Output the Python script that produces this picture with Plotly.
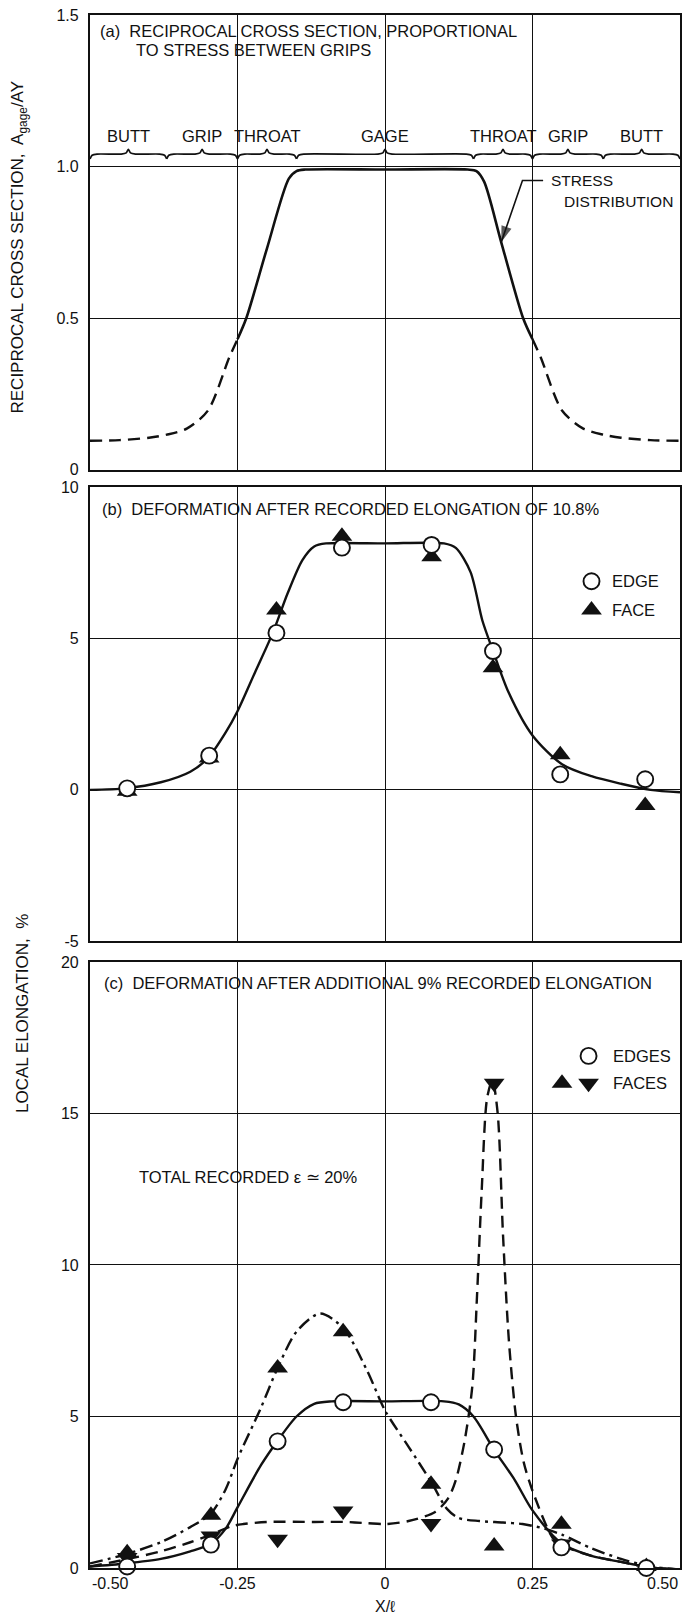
import plotly.graph_objects as go

FONT = "Liberation Sans"
INK = "#111111"

# ---------------- panel (a): reciprocal cross section ----------------
seg_names = ["BUTT", "GRIP", "THROAT", "GAGE", "THROAT", "GRIP", "BUTT"]
seg_bounds = [-0.50, -0.37, -0.25, -0.15, 0.15, 0.25, 0.37, 0.50]

stress_x_left = [-0.50, -0.45, -0.40, -0.37, -0.336, -0.30, -0.264, -0.25]
stress_y_left = [0.095, 0.097, 0.105, 0.115, 0.135, 0.195, 0.37, 0.43]
stress_x_mid = [-0.25, -0.235, -0.20, -0.163, -0.150, -0.135, 0.0, 0.140, 0.155, 0.168, 0.197, 0.234, 0.25]
stress_y_mid = [0.43, 0.50, 0.73, 0.96, 0.985, 0.99, 0.99, 0.99, 0.985, 0.95, 0.75, 0.50, 0.43]
stress_x_right = [0.25, 0.264, 0.30, 0.336, 0.37, 0.40, 0.45, 0.50]
stress_y_right = [0.43, 0.37, 0.195, 0.135, 0.115, 0.105, 0.097, 0.095]

# ---------------- panel (b): 10.8 % recorded elongation ----------------
b_x = [-0.437, -0.298, -0.184, -0.073, 0.079, 0.183, 0.297, 0.441]
b_edge = [0.05, 1.13, 5.19, 8.01, 8.10, 4.59, 0.51, 0.35]
b_face = [-0.05, 1.05, 5.95, 8.39, 7.71, 4.04, 1.16, -0.52]
b_fit_x = [-0.50, -0.44, -0.38, -0.33, -0.30, -0.27, -0.25, -0.22, -0.19, -0.165,
           -0.14, -0.12, -0.10, 0.0, 0.10, 0.12, 0.145, 0.165, 0.183, 0.21, 0.25,
           0.30, 0.35, 0.40, 0.45, 0.50]
b_fit_y = [0.0, 0.05, 0.25, 0.60, 1.05, 1.90, 2.60, 3.90, 5.20, 6.50,
           7.60, 8.05, 8.15, 8.15, 8.15, 8.00, 7.20, 5.60, 4.60, 3.20, 1.80,
           0.85, 0.45, 0.20, 0.0, -0.08]

# ---------------- panel (c): additional 9 % recorded elongation ----------------
c_x = [-0.437, -0.295, -0.182, -0.071, 0.078, 0.185, 0.299, 0.443]
c_edge = [0.05, 0.77, 4.18, 5.47, 5.47, 3.91, 0.68, 0.0]
c_face_up = [0.50, 1.74, 6.60, 7.80, 2.76, 0.73, 1.44, 0.05]
c_face_down = [0.35, 1.06, 0.95, 1.88, 1.47, 16.0, 0.79, -0.05]

c_edge_fit_x = [-0.50, -0.44, -0.38, -0.33, -0.295, -0.27, -0.25, -0.21, -0.182, -0.15,
                -0.12, -0.09, 0.0, 0.10, 0.125, 0.15, 0.185, 0.22, 0.25, 0.30, 0.35, 0.40, 0.45, 0.50]
c_edge_fit_y = [0.05, 0.15, 0.30, 0.55, 0.80, 1.30, 2.00, 3.40, 4.20, 5.00,
                5.42, 5.50, 5.50, 5.50, 5.40, 5.00, 3.90, 2.90, 1.90, 0.80, 0.40, 0.20, 0.02, -0.05]

c_up_fit_x = [-0.50, -0.44, -0.38, -0.33, -0.295, -0.27, -0.25, -0.21, -0.182, -0.15,
              -0.11, -0.07, -0.03, 0.0, 0.04, 0.078, 0.105, 0.125, 0.16, 0.20, 0.233,
              0.27, 0.30, 0.35, 0.40, 0.45, 0.50]
c_up_fit_y = [0.15, 0.45, 0.85, 1.35, 1.80, 2.60, 3.60, 5.30, 6.60, 7.80,
              8.40, 7.90, 6.50, 5.20, 4.00, 2.85, 1.95, 1.65, 1.55, 1.50, 1.45,
              1.30, 1.10, 0.65, 0.30, 0.05, -0.05]

c_down_fit_x = [-0.50, -0.44, -0.38, -0.33, -0.295, -0.26, -0.24, -0.20, -0.12, -0.07,
                -0.03, 0.0, 0.04, 0.085, 0.107, 0.12, 0.135, 0.148, 0.156, 0.164, 0.173,
                0.182, 0.191, 0.200, 0.210, 0.222, 0.235, 0.25, 0.284, 0.30, 0.35, 0.40,
                0.45, 0.50]
c_down_fit_y = [0.05, 0.28, 0.55, 0.85, 1.10, 1.38, 1.45, 1.52, 1.52, 1.52,
                1.48, 1.45, 1.55, 1.85, 2.30, 2.90, 4.20, 6.00, 9.00, 12.50, 15.50,
                16.10, 15.00, 11.00, 7.50, 5.00, 3.50, 2.55, 1.00, 0.75, 0.40, 0.20,
                0.02, -0.05]

x_ticks = [-0.50, -0.25, 0.0, 0.25, 0.50]
x_tick_text = ["-0.50", "-0.25", "0", "0.25", "0.50"]

fig = go.Figure()

SPLINE = dict(shape="spline", smoothing=0.8)


def curve(x, y, axes, dash="solid", width=2.4):
    fig.add_trace(go.Scatter(
        x=x, y=y, mode="lines", xaxis=axes[0], yaxis=axes[1],
        line=dict(color=INK, width=width, dash=dash, **SPLINE),
        hoverinfo="skip", showlegend=False))


def markers(x, y, axes, symbol, size, filled):
    fig.add_trace(go.Scatter(
        x=x, y=y, mode="markers", xaxis=axes[0], yaxis=axes[1], cliponaxis=False,
        marker=dict(symbol=symbol, size=size,
                    color=INK if filled else "white",
                    line=dict(color=INK, width=0 if filled else 1.9)),
        hoverinfo="skip", showlegend=False))


A = ("x3", "y3")
B = ("x2", "y2")
C = ("x", "y")

# (a) stress distribution
curve(stress_x_left, stress_y_left, A, dash="12px,7px")
curve(stress_x_mid, stress_y_mid, A, width=2.6)
curve(stress_x_right, stress_y_right, A, dash="12px,7px")

# braces marking specimen regions
brace_x, brace_y = [], []
d = 0.012
for a, b in zip(seg_bounds[:-1], seg_bounds[1:]):
    m = 0.5 * (a + b)
    brace_x += [a, a + 0.3 * d, a + d, m - d, m - 0.3 * d, m, m + 0.3 * d, m + d, b - d, b - 0.3 * d, b, None]
    brace_y += [1.025, 1.037, 1.041, 1.041, 1.045, 1.057, 1.045, 1.041, 1.041, 1.037, 1.025, None]
fig.add_trace(go.Scatter(x=brace_x, y=brace_y, mode="lines", xaxis="x3", yaxis="y3",
                         line=dict(color=INK, width=1.7, shape="spline", smoothing=0.6),
                         hoverinfo="skip", showlegend=False, connectgaps=False))

# leader with arrowhead pointing at the stress curve
fig.add_trace(go.Scatter(
    x=[0.268, 0.233, 0.197], y=[0.954, 0.954, 0.75], mode="lines+markers",
    xaxis="x3", yaxis="y3", line=dict(color=INK, width=1.6),
    marker=dict(symbol="arrow", size=[0, 0, 17], angleref="previous", color=INK,
                line=dict(width=0)),
    hoverinfo="skip", showlegend=False))

# (b)
curve(b_fit_x, b_fit_y, B)
markers(b_x, b_face, B, "triangle-up", 18, True)
markers(b_x, b_edge, B, "circle", 16, False)
markers([0.350], [6.9], B, "circle", 16, False)
markers([0.350], [5.95], B, "triangle-up", 18, True)

# (c)
curve(c_edge_fit_x, c_edge_fit_y, C)
curve(c_up_fit_x, c_up_fit_y, C, dash="13px,5px,3px,5px")
curve(c_down_fit_x, c_down_fit_y, C, dash="12px,7px")
markers(c_x, c_face_up, C, "triangle-up", 18, True)
markers(c_x, c_face_down, C, "triangle-down", 18, True)
markers(c_x, c_edge, C, "circle", 16, False)
markers([0.345], [16.9], C, "circle", 16, False)
markers([0.300], [16.0], C, "triangle-up", 18, True)
markers([0.345], [16.0], C, "triangle-down", 18, True)

# ---------------- axes ----------------
H = 1617
TOP, BOT = 10, 49
plot_h = H - TOP - BOT


def dom(px_bottom, px_top):
    return [(H - BOT - px_bottom) / plot_h, (H - BOT - px_top) / plot_h]


tick_font = dict(family=FONT, size=16, color=INK)
common_x = dict(range=[-0.5, 0.5], tickvals=x_ticks[1:-1], showgrid=True, gridcolor=INK,
                gridwidth=1.3, zeroline=False, showline=True, linecolor=INK, linewidth=2.2,
                mirror=True, ticks="", tickfont=tick_font, fixedrange=True)
common_y = dict(showgrid=True, gridcolor=INK, gridwidth=1.3, zeroline=False, showline=True,
                linecolor=INK, linewidth=2.2, mirror=True, ticks="", tickfont=tick_font,
                ticklabelstandoff=6, fixedrange=True)

fig.update_layout(
    width=689, height=H,
    margin=dict(l=90, r=7, t=TOP, b=BOT),
    paper_bgcolor="white", plot_bgcolor="white",
    font=dict(family=FONT, size=16, color=INK),
    showlegend=False,
    xaxis=dict(common_x, anchor="y", ticktext=x_tick_text[1:-1], showticklabels=True),
    xaxis2=dict(common_x, anchor="y2", showticklabels=False),
    xaxis3=dict(common_x, anchor="y3", showticklabels=False),
    yaxis=dict(common_y, anchor="x", domain=dom(1568, 960), range=[0, 20],
               tickvals=[0, 5, 10, 15, 20], ticktext=["0", "5", "10", "15", "20"]),
    yaxis2=dict(common_y, anchor="x2", domain=dom(939, 484), range=[-5, 10],
                tickvals=[-5, 0, 5, 10], ticktext=["-5", "0", "5", "10"]),
    yaxis3=dict(common_y, anchor="x3", domain=dom(466, 10), range=[0, 1.5],
                tickvals=[0, 0.5, 1.0, 1.5], ticktext=["0", "0.5", "1.0", "1.5"]),
)


def paper_y(px):
    return (H - BOT - px) / plot_h


def paper_x(px):
    return (px - 90) / 592


ann = []


def text(x, y, s, xref, yref, xanchor="left", size=16.5, **kw):
    ann.append(dict(x=x, y=y, text=s, xref=xref, yref=yref, xanchor=xanchor,
                    yanchor="middle", showarrow=False,
                    font=dict(family=FONT, size=size, color=INK), **kw))


# panel titles
text(-0.487, 1.447, "(a)  RECIPROCAL CROSS SECTION, PROPORTIONAL", "x3", "y3")
text(-0.425, 1.384, "TO STRESS BETWEEN GRIPS", "x3", "y3")
text(-0.483, 9.28, "(b)  DEFORMATION AFTER RECORDED ELONGATION OF 10.8%", "x2", "y2")
text(-0.480, 19.31, "(c)  DEFORMATION AFTER ADDITIONAL 9% RECORDED ELONGATION", "x", "y")

# region labels over the braces
for a, b, name in zip(seg_bounds[:-1], seg_bounds[1:], seg_names):
    text(0.5 * (a + b), 1.10, name, "x3", "y3", xanchor="center")

# stress distribution callout
text(0.278, 0.954, "STRESS", "x3", "y3", size=15.5)
text(0.300, 0.884, "DISTRIBUTION", "x3", "y3", size=15.5)

# legends
text(0.381, 6.9, "EDGE", "x2", "y2")
text(0.381, 5.95, "FACE", "x2", "y2")
text(0.383, 16.9, "EDGES", "x", "y")
text(0.383, 16.0, "FACES", "x", "y")
text(-0.42, 12.9, "TOTAL RECORDED \u03b5 \u2243 20%", "x", "y")

# end tick labels sit inside the frame edges
text(-0.5, paper_y(1584), x_tick_text[0], "x", "paper", xanchor="left", size=16)
text(0.5, paper_y(1584), x_tick_text[-1], "x", "paper", xanchor="right", size=16)
text(0.0, paper_y(1607), "X/\u2113", "x", "paper", xanchor="center", size=16)

# axis titles
text(paper_x(19), paper_y(243), "RECIPROCAL CROSS SECTION,  A<sub>gage</sub>/AY", "paper", "paper",
     xanchor="center", textangle=-90, size=17)
text(paper_x(23), paper_y(1012), "LOCAL ELONGATION,  %", "paper", "paper",
     xanchor="center", textangle=-90, size=17)

fig.update_layout(annotations=ann)
fig.write_html("out.html")
